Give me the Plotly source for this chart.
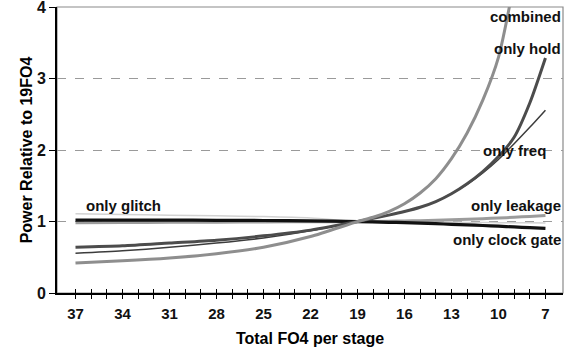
import plotly.graph_objects as go

# ---- data ----
fo4 = [37, 34, 31, 28, 25, 22, 19, 17, 16, 15, 14, 13, 12, 11, 10, 9, 8, 7]
fo4_combined = [37, 34, 31, 28, 25, 22, 19, 18, 17, 16, 15, 14, 13, 12, 11, 10, 9]
combined = [0.42, 0.45, 0.49, 0.55, 0.64, 0.79, 1.0, 1.06, 1.14, 1.25, 1.40, 1.60, 1.88, 2.24, 2.70, 3.30, 4.35]
only_hold = [0.64, 0.66, 0.70, 0.74, 0.80, 0.88, 1.0, 1.09, 1.14, 1.20, 1.28, 1.39, 1.53, 1.70, 1.91, 2.18, 2.66, 3.29]
only_freq = [0.555, 0.59, 0.64, 0.70, 0.77, 0.87, 1.0, 1.09, 1.14, 1.20, 1.28, 1.39, 1.52, 1.68, 1.87, 2.09, 2.32, 2.56]
only_leakage = [0.985, 0.987, 0.99, 0.992, 0.995, 0.997, 1.0, 1.005, 1.008, 1.012, 1.017, 1.024, 1.032, 1.04, 1.05, 1.06, 1.072, 1.085]
only_clock_gate = [1.02, 1.02, 1.02, 1.018, 1.015, 1.01, 1.0, 0.99, 0.985, 0.978, 0.97, 0.962, 0.955, 0.945, 0.935, 0.925, 0.915, 0.905]
only_glitch = [1.11, 1.10, 1.09, 1.08, 1.07, 1.05, 1.0, 0.995, 0.993, 0.99, 0.99, 0.99, 0.988, 0.987, 0.985, 0.983, 0.982, 0.98]

tick_vals = list(range(37, 6, -1))
tick_text = [str(v) if (37 - v) % 3 == 0 else "" for v in tick_vals]
y_ticks = [0, 1, 2, 3, 4]

FONT = "Liberation Sans, Arial, sans-serif"

fig = go.Figure()

series = [
    ("only glitch", fo4, only_glitch, "#d2d2d2", 1.5),
    ("only leakage", fo4, only_leakage, "#9c9c9c", 3),
    ("only clock gate", fo4, only_clock_gate, "#111111", 3.2),
    ("only freq", fo4, only_freq, "#3c3c3c", 1.5),
    ("only hold", fo4, only_hold, "#4c4c4c", 3),
    ("combined", fo4_combined, combined, "#8e8e8e", 3),
]
for name, xs, ys, col, w in series:
    fig.add_trace(go.Scatter(x=xs, y=ys, mode="lines", name=name,
                             line=dict(color=col, width=w, shape="spline", smoothing=0.7),
                             showlegend=False, hoverinfo="skip"))

# invisible trace to carry the overlay axis with inside ticks
fig.add_trace(go.Scatter(x=fo4, y=[None] * len(fo4), xaxis="x2", yaxis="y",
                         mode="lines", showlegend=False, hoverinfo="skip"))

xr = [38.18, 5.88]
fig.update_layout(
    width=568, height=354,
    margin=dict(l=57, r=5, t=7, b=61),
    paper_bgcolor="white", plot_bgcolor="white",
    font=dict(family=FONT, size=15, color="black"),
    xaxis=dict(range=xr, tickmode="array", tickvals=tick_vals,
               ticktext=[f"<b>{t}</b>" if t else "" for t in tick_text],
               ticks="outside", ticklen=4, tickwidth=1, tickcolor="black",
               showline=True, linecolor="black", linewidth=2,
               showgrid=False, zeroline=False, automargin=False,
               tickfont=dict(family=FONT, size=15, color="#111"),
               ticklabelstandoff=2,
               title=dict(text="<b>Total FO4 per stage</b>", font=dict(family=FONT, size=16), standoff=12)),
    xaxis2=dict(range=xr, overlaying="x", side="bottom", tickmode="array", tickvals=tick_vals,
                ticks="inside", ticklen=4, tickwidth=1, tickcolor="black",
                showticklabels=False, showgrid=False, zeroline=False, showline=False),
    yaxis=dict(range=[0, 4.004], tickmode="array", tickvals=y_ticks,
               ticktext=[f"<b>{v}</b>" for v in y_ticks],
               ticks="outside", ticklen=6, tickcolor="black",
               showline=True, linecolor="black", linewidth=2,
               showgrid=True, gridcolor="#9a9a9a", griddash="dash", gridwidth=1,
               zeroline=False, ticklabeloverflow="allow", automargin=False,
               tickfont=dict(family=FONT, size=16, color="#111"),
               title=dict(text="<b>Power Relative to 19FO4</b>", font=dict(family=FONT, size=16), standoff=0)),
    shapes=[dict(type="rect", xref="paper", yref="paper", x0=0, x1=1, y0=0, y1=1,
                 line=dict(color="#8a8a8a", width=1.2), layer="below")],
)

labels = [
    ("combined", 1.0, 3.87, "right"),
    ("only hold", 1.0, 3.43, "right"),
    ("only freq", 0.97, 2.0, "right"),
    ("only leakage", 1.0, 1.22, "right"),
    ("only clock gate", 1.0, 0.755, "right"),
    ("only glitch", 0.054, 1.23, "left"),
]
for txt, xp, yv, anc in labels:
    fig.add_annotation(text=f"<b>{txt}</b>", xref="paper", yref="y", x=xp, y=yv,
                       xanchor=anc, yanchor="middle", showarrow=False,
                       font=dict(family=FONT, size=15, color="#111"), bgcolor="rgba(0,0,0,0)")

fig.write_html("out.html")
